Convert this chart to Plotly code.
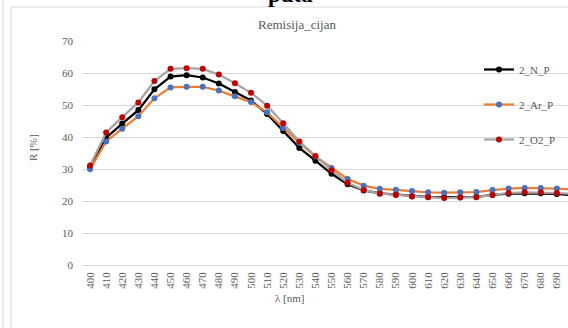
import plotly.graph_objects as go

wavelength = list(range(400, 710, 10))
n_p = [30.5, 39.8, 44.2, 48.4, 54.9, 58.9, 59.3, 58.6, 56.7, 54.1, 51.4, 47.2, 41.9, 36.6,
       32.6, 28.5, 25.2, 23.3, 22.4, 22.0, 21.5, 21.3, 21.2, 21.2, 21.3, 21.9, 22.3, 22.4, 22.4, 22.2, 21.8]
ar_p = [29.9, 38.6, 42.6, 46.5, 52.1, 55.5, 55.7, 55.7, 54.5, 52.7, 50.9, 47.7, 42.8, 38.2,
        33.9, 30.3, 26.9, 24.8, 23.8, 23.5, 23.1, 22.7, 22.6, 22.7, 22.8, 23.4, 23.9, 24.1, 24.1, 23.9, 23.6]
o2_p = [31.1, 41.4, 46.2, 50.8, 57.5, 61.3, 61.5, 61.3, 59.5, 56.8, 53.8, 49.8, 44.3, 38.6,
        34.1, 29.6, 25.7, 23.4, 22.3, 21.9, 21.4, 21.2, 20.9, 21.1, 21.2, 21.9, 22.5, 22.7, 22.7, 22.5, 22.2]
series_names = ["2_N_P", "2_Ar_P", "2_O2_P"]
x_ticks = list(range(400, 700, 10))
y_ticks = list(range(0, 80, 10))

FONT = "Liberation Serif"
GRAY = "#595959"

fig = go.Figure()
styles = [("#000000", "#000000"), ("#ED7D31", "#4472C4"), ("#A5A5A5", "#C00000")]
for i, (name, vals) in enumerate(zip(series_names, [n_p, ar_p, o2_p])):
    lc, mc = styles[i]
    fig.add_trace(go.Scatter(
        x=wavelength, y=vals, name=name, mode="lines+markers",
        line=dict(color=lc, width=2.25),
        marker=dict(color=mc, size=6, line=dict(width=0)),
        legendgroup=name,
    ))

W, H = 568, 328
L, R, T, B = 82, 0, 41, 63
pw, ph = W - L - R, H - T - B

def px(x):
    return (x - L) / pw

def py(y):
    return (H - B - y) / ph

fig.update_layout(
    width=W, height=H,
    margin=dict(l=L, r=R, t=T, b=B, pad=0),
    paper_bgcolor="white", plot_bgcolor="white",
    font=dict(family=FONT, size=11, color=GRAY),
    title=dict(text="Remisija_cijan", x=px(297), xref="paper", xanchor="center",
               y=1 - 24 / H, yref="container", yanchor="middle",
               font=dict(family=FONT, size=13, color=GRAY)),
    xaxis=dict(range=[395.0, 696.9], tickmode="array", tickvals=x_ticks,
               ticktext=[str(v) for v in x_ticks], tickangle=-90,
               showgrid=False, zeroline=False, showline=False, ticks="",
               ticklabelstandoff=4, tickfont=dict(family=FONT, size=11, color=GRAY)),
    yaxis=dict(range=[0, 70], tickmode="array", tickvals=y_ticks,
               showgrid=True, gridcolor="#D9D9D9", gridwidth=1, zeroline=True,
               zerolinecolor="#D9D9D9", zerolinewidth=1, showline=False, ticks="",
               ticklabelstandoff=8, tickfont=dict(family=FONT, size=11, color=GRAY)),
    legend=dict(x=px(479), xanchor="left", y=py(55), yanchor="top",
                bgcolor="rgba(0,0,0,0)", font=dict(family=FONT, size=11, color=GRAY),
                tracegroupgap=16, itemwidth=30),
    showlegend=True,
)

fig.add_annotation(text="λ [nm]", x=px(289), y=py(298), xref="paper", yref="paper",
                   showarrow=False, xanchor="center", yanchor="middle",
                   font=dict(family=FONT, size=11, color=GRAY))
fig.add_annotation(text="R [%]", x=px(33), y=py(148), xref="paper", yref="paper",
                   showarrow=False, xanchor="center", yanchor="middle", textangle=-90,
                   font=dict(family=FONT, size=11, color=GRAY))
fig.add_annotation(text="<b>puta</b>", x=px(290), y=py(9), xref="paper", yref="paper",
                   showarrow=False, xanchor="center", yanchor="bottom",
                   font=dict(family=FONT, size=23, color="#000000"))

# chart borders
fig.add_shape(type="rect", xref="paper", yref="paper", x0=px(11), x1=px(575),
              y0=py(340), y1=py(7), line=dict(color="#D9D9D9", width=1), layer="below")
fig.add_shape(type="line", xref="paper", yref="paper", x0=px(3), x1=px(3),
              y0=py(340), y1=py(-5), line=dict(color="#D9D9D9", width=1), layer="below")

fig.write_html("out.html", config={"displayModeBar": False},
               post_script="document.body.style.margin='0';")
